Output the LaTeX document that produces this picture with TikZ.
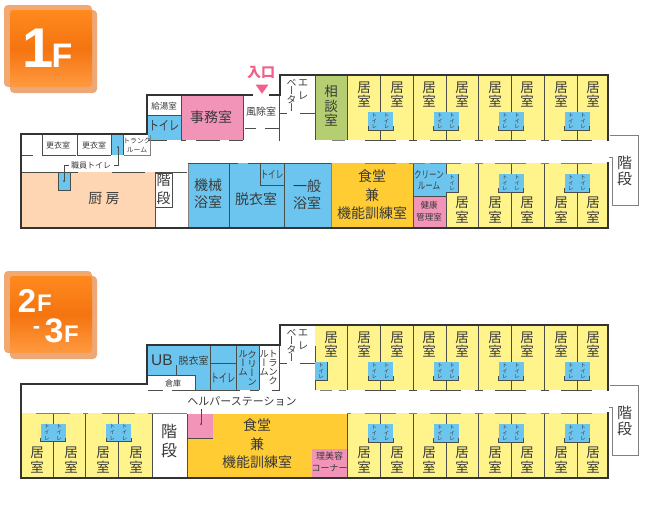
\documentclass[tikz,border=0pt]{standalone}
\usepackage{fontspec}
\setmainfont{Noto Sans CJK JP}
\newfontfamily\vjp[RawFeature={+vert}]{Noto Sans CJK JP}
\newfontfamily\lat{Liberation Sans}
\usetikzlibrary{shapes.geometric}
\definecolor{ylw}{HTML}{FFF38C}
\definecolor{blu}{HTML}{6CC5EE}
\definecolor{pnk}{HTML}{F293B8}
\definecolor{org}{HTML}{FFCC33}
\definecolor{grn}{HTML}{B5CE72}
\definecolor{pch}{HTML}{FFD6B4}
\definecolor{wal}{HTML}{333333}
\definecolor{iw}{HTML}{4D4D47}
\definecolor{txt}{HTML}{3A3A3A}
\definecolor{rim}{HTML}{F2A871}
\definecolor{rimb}{HTML}{E99A60}
\definecolor{tagA}{HTML}{FF8A1E}
\definecolor{tagB}{HTML}{F47410}
\definecolor{tagC}{HTML}{FF9A40}
\definecolor{ent}{HTML}{F0608A}
\newcommand\fs[2]{\fontsize{#1}{#2}\selectfont}
\tikzset{
  lb/.style={inner sep=0pt,text=txt,align=center},
  outer/.style={draw=wal,line width=1.8pt,line cap=rect},
  iwall/.style={draw=iw,line width=.8pt},
  lwall/.style={draw=iw,line width=1pt},
  gwall/.style={draw=gray,line width=.8pt},
  rmlb/.style={lb,font=\fs{13.5}{14.5}},
  toilab/.style={lb,font=\vjp\fs{5.5}{5.6}},
  tagtxt/.style={inner sep=0pt,text=white},
}
% toilet pair centred on wall x=#1, top y=#2
\newcommand\toipair[2]{%
  \fill[blu] ({#1-12.5},#2) rectangle ({#1+12.5},{#2+18});
  \draw[iwall] ({#1-12.5},{#2+14}) -- ({#1-12.5},{#2+18}) -- ({#1+12.5},{#2+18}) -- ({#1+12.5},{#2+14});
  \node[toilab] at ({#1-6.2},{#2+9}) {ト\\イ\\レ};
  \node[toilab] at ({#1+6.2},{#2+9}) {ト\\イ\\レ};
}
\newcommand\toisingle[2]{%
  \fill[blu] (#1,#2) rectangle ({#1+12.5},{#2+18});
  \draw[iwall] (#1,{#2+18}) -- ({#1+12.5},{#2+18}) -- ({#1+12.5},#2);
  \node[toilab] at ({#1+6.2},{#2+9}) {ト\\イ\\レ};
}
% dashes on corridor
\newcommand\corr[2]{%
  \foreach \w in {380.5,446,511,577}{\draw[#2] ({\w-16},#1) -- ({\w+15},#1);}
  \foreach \w in {413,478.5,544.5}{\draw[#2] ({\w-4},#1) -- ({\w+4},#1);}
}
\begin{document}
\begin{tikzpicture}[x=1pt,y=-1pt]
\useasboundingbox (0,0) rectangle (650,520);
\fill[white] (0,0) rectangle (650,520);

%%%% tags
\foreach \dy in {0,266}{
  \fill[rim,rounded corners=4pt] (4,{5+\dy}) rectangle (92,{87+\dy});
  \fill[rimb,rounded corners=4pt,opacity=.85] (10,{10+\dy}) rectangle (97,{93+\dy});
  \shade[top color=tagA,bottom color=tagC,middle color=tagB,rounded corners=3pt] (10,{10+\dy}) rectangle (92,{87+\dy});
}
\node[tagtxt,font=\lat\bfseries\fs{56}{56}] (t1) at (38,48) {1};
\node[tagtxt,font=\lat\bfseries\fs{34}{34}] (t1f) at (62,55.5) {F};
\node[tagtxt,font=\lat\bfseries\fs{33}{33}] (t2) at (27,300.5) {2};
\node[tagtxt,font=\lat\bfseries\fs{24}{24}] (t2f) at (44.5,303) {F};
\node[tagtxt,font=\lat\bfseries\fs{22}{22}] (t3d) at (36.5,330) {-};
\node[tagtxt,font=\lat\bfseries\fs{34}{34}] (t3) at (54,331) {3};
\node[tagtxt,font=\lat\bfseries\fs{24}{24}] (t3f) at (71.5,334) {F};

%%%%%%%%%%%%% 1F fills
\fill[ylw] (347,75) rectangle (608,140);
\fill[ylw] (446,163) rectangle (608,228);
\fill[grn] (315,75) rectangle (347,140);
\fill[pnk] (181,96) rectangle (243,140);
\fill[blu] (148,115) rectangle (181,140);
\fill[pch] (22,172) rectangle (155,228);
\fill[blu] (188,163) rectangle (331,228);
\fill[org] (331,163) rectangle (413,228);
\fill[blu] (413,163) rectangle (446,196);
\fill[pnk] (413,196) rectangle (446,228);
\fill[blu] (58,172) rectangle (70,190);
\fill[blu] (112,135) rectangle (123,155);

%% 1F interior walls
\foreach \w in {380.5,413,446,478.5,511,544.5,577}{\draw[iwall] (\w,76) -- (\w,140);}
\foreach \w in {413,446,478.5,511,544.5,577}{\draw[iwall] (\w,163) -- (\w,228);}
\draw[iwall] (347,75) -- (347,140) (315,75) -- (315,140) (279,96) -- (279,141);
\draw[iwall] (280,113) -- (287,113) (300,113) -- (315,113);
\draw[iwall] (245,128) -- (256,128) (265,128) -- (279,128);
\draw[iwall] (243,96) -- (243,140) (181,96) -- (181,140) (148,115) -- (181,115);
\draw[iwall] (148,140) -- (167,140) (181,140) -- (186,140) (196,140) -- (220,140) (229,140) -- (243,140);
\draw[gwall] (188,163) -- (188,228) (331,163) -- (331,228);
\draw[iwall] (229,163) -- (229,228) (284,163) -- (284,228);
\draw[iwall] (260,163) -- (260,185) (260,185) -- (284,185);
\draw[iwall] (188,163) -- (238,163) (248,163) -- (331,163);
\draw[iwall] (413,196) -- (446,196);
% corridor dashes
\corr{140.5}{lwall}
\corr{163}{gwall}
\draw[gwall] (332,140.5) -- (345,140.5);
\draw[gwall] (415,163) -- (425,163);
% left wing
\draw[iwall] (22,155) -- (33,155);
\draw[iwall] (42,135) -- (42,155) -- (76,155);
\draw[iwall] (77,135) -- (77,155) -- (111,155);
\draw[iwall] (111,135) -- (111,155) (123,135) -- (123,155);
\draw[gwall] (124,155) -- (150,155) -- (150,135);
\draw[iwall] (22,172) -- (78,172) (112,172) -- (145,172);
\draw[iwall] (58,172) -- (58,190) -- (70,190) -- (70,172);
\draw[iwall] (155,172) -- (155,228);
\draw[iwall] (155,172) -- (187,172);
\draw[iwall,fill=white] (155,173) rectangle (172,207);
\fill[iw] (64,181) circle (1pt);
\fill[iw] (118,147) circle (1pt);
\draw[iwall] (64,181) -- (64,165) -- (69,165);
\draw[iwall] (118,147) -- (118,165) -- (114,165);
% right stair
\draw[gwall,fill=white] (610,135) -- (638,135) -- (638,205) -- (612,205) -- (612,157) -- (609,157);

%% 1F outer
\draw[outer] (252,95) -- (147,95) -- (147,134) -- (21,134) -- (21,228) -- (608,228) -- (608,163);
\draw[outer] (270,95) -- (280,95) -- (280,75) -- (608,75) -- (608,140);

%% 1F toilets
\foreach \w in {380.5,446,511,577}{\toipair{\w}{112}}
\foreach \w in {511,577}{\toipair{\w}{174}}
\toisingle{446}{174}

%% 1F labels
\foreach \x/\n in {364/a,397/b,429/c,462/d,495/e,527/f,561/g,593/h}{
  \node[rmlb] (u\n) at (\x,94.5) {居\\室};
}
\foreach \x/\n in {462/d,495/e,527/f,561/g,593/h}{
  \node[rmlb] (l\n) at (\x,210) {居\\室};
}
\node[lb,font=\fs{13.5}{14.5}] (sodan) at (331,106) {相\\談\\室};
\node[lb,font=\fs{14}{15}] (jimu) at (211,117) {事務室};
\node[lb,font=\fs{10}{11}] (fuu) at (261,112) {風除室};
\node[lb,font=\fs{8.5}{9}] (kyu) at (164,106) {給湯室};
\node[lb,xscale=.78,font=\fs{13}{13}] (to1) at (164,126) {トイレ};
\node[lb,font=\fs{8}{9}] (ko1) at (58,145) {更衣室};
\node[lb,font=\fs{8}{9}] (ko2) at (94,145) {更衣室};
\node[lb,font=\fs{6.8}{8.6}] (tr1) at (137,145.5) {トランク\\ルーム};
\node[lb,fill=white,inner sep=1pt,font=\fs{8}{9}] (sy) at (91,165) {職員トイレ};
\node[lb,font=\fs{14}{14}] (chu) at (104,199) {厨 房};
\node[lb,font=\fs{14}{17}] (kik) at (208,194) {機械\\浴室};
\node[lb,font=\fs{14}{15}] (dat) at (256,199) {脱衣室};
\node[lb,xscale=.72,font=\fs{10.5}{11}] (to2) at (272,175) {トイレ};
\node[lb,font=\fs{14}{17}] (ip) at (307,195) {一般\\浴室};
\node[lb,font=\fs{14}{18.5}] (sh1) at (372,195) {食堂\\兼\\機能訓練室};
\node[lb,xscale=.75,font=\fs{10}{10.5}] (cl) at (429,180) {クリーン\\ルーム};
\node[lb,font=\fs{8.5}{12}] (ke) at (429,211.5) {健康\\管理室};
\node[lb,font=\fs{14}{18.5}] (s1) at (163.5,189.5) {階\\段};
\node[lb,font=\fs{15}{16.5}] (s2) at (624.5,171) {階\\段};
\node[lb,font=\vjp\fs{10.5}{13}] (ev1) at (303,89.5) {エ\\レ};
\node[lb,font=\vjp\fs{10}{8.6}] (ev2) at (291.5,95.5) {ベ\\ー\\タ\\ー};
\node[inner sep=0pt,text=ent,font=\bfseries\fs{14}{14}] (entr) at (261,73) {入口};
\node[isosceles triangle,isosceles triangle apex angle=70,shape border rotate=-90,fill=ent,inner sep=0pt,minimum height=9pt,minimum width=10pt] (arr) at (262,88) {};

%%%%%%%%%%%%% 2F fills
\fill[ylw] (315,325) rectangle (608,390);
\fill[ylw] (347,413) rectangle (608,478);
\fill[ylw] (22,413) rectangle (152,478);
\fill[org] (188,414) rectangle (347,478);
\fill[pnk] (188,414) rectangle (213,438);
\fill[pnk] (312,449) rectangle (347,478);
\fill[blu] (148,345) rectangle (259,390);
\fill[white] (148,375) rectangle (195,390);

%% 2F walls
\foreach \w in {347,380.5,413,446,478.5,511,544.5,577}{\draw[iwall] (\w,326) -- (\w,390);}
\foreach \w in {380.5,413,446,478.5,511,544.5,577}{\draw[iwall] (\w,413) -- (\w,478);}
\draw[iwall] (347,413) -- (347,478);
\draw[iwall] (315,346) -- (315,390) (279,346) -- (279,391);
\draw[iwall] (280,363) -- (287,363) (300,363) -- (315,363);
\draw[iwall] (210.5,346) -- (210.5,390) (236,346) -- (236,390) (210.5,363) -- (236,363);
\draw[iwall] (259,346) -- (259,390);
\draw[iwall] (176,365) -- (176,375);
\draw[iwall] (148,375) -- (195,375) -- (195,390);
\draw[iwall] (148,390) -- (163,390) (172,390) -- (240,390) (250,390) -- (259,390) (272,390) -- (280,390);
\draw[iwall] (187,414) -- (187,478);
\draw[iwall] (188,438) -- (213,438);
\draw[iwall] (201,409) -- (201,424);
\fill[iw] (201,424) circle (1pt);
\corr{390.5}{lwall}
\corr{413}{gwall}
\draw[gwall] (320,390.5) -- (332,390.5) (339,390.5) -- (346,390.5);
\draw[gwall] (347,413) -- (351,413);
% left lower rooms
\foreach \w in {53,85.5,118.5,152}{\draw[iwall] (\w,413) -- (\w,478);}
\draw[gwall] (36,413) -- (70,413) (83,413) -- (88,413) (102,413) -- (135,413) (148,413) -- (187,413);
% right stair
\draw[gwall,fill=white] (610,385) -- (638,385) -- (638,455) -- (612,455) -- (612,407) -- (609,407);

%% 2F outer
\draw[outer] (21,478) -- (21,384) -- (147,384) -- (147,345) -- (280,345) -- (280,325) -- (608,325) -- (608,390);
\draw[outer] (608,413) -- (608,478) -- (21,478);

%% 2F toilets
\foreach \w in {380.5,446,511,577}{\toipair{\w}{362}}
\foreach \w in {380.5,446,511,577}{\toipair{\w}{424}}
\foreach \w in {53,118.5}{\toipair{\w}{423.5}}
\toisingle{315}{362}

%% 2F labels
\foreach \x/\n in {331/o,364/a,397/b,429/c,462/d,495/e,527/f,561/g,593/h}{
  \node[rmlb] (U\n) at (\x,344.5) {居\\室};
}
\foreach \x/\n in {364/a,397/b,429/c,462/d,495/e,527/f,561/g,593/h,37/p,71/q,103/r,136/s}{
  \node[rmlb] (L\n) at (\x,460) {居\\室};
}
\node[lb,font=\lat\fs{15.5}{16}] (ub) at (162,360) {UB};
\node[lb,font=\fs{10}{11}] (dt) at (193.5,360.5) {脱衣室};
\node[lb,font=\fs{8}{9}] (so) at (173,383) {倉庫};
\node[lb,xscale=.68,font=\fs{12}{13}] (to3) at (223,378) {トイレ};
\node[lb,font=\vjp\fs{9.5}{9}] (c1) at (252,368) {ク\\リ\\ー\\ン};
\node[lb,font=\vjp\fs{9.5}{9}] (c2) at (243,363.5) {ル\\ー\\ム};
\node[lb,font=\vjp\fs{9.5}{9}] (tr2) at (273,368) {ト\\ラ\\ン\\ク};
\node[lb,font=\vjp\fs{9.5}{9}] (tr3) at (264,363.5) {ル\\ー\\ム};
\node[lb,fill=white,inner sep=.5pt,font=\fs{11}{12}] (hs) at (242,401) {ヘルパーステーション};
\node[lb,font=\fs{14}{18.5}] (sh2) at (257,444) {食堂\\兼\\機能訓練室};
\node[lb,font=\fs{9}{12}] (ri) at (329.5,462) {理美容\\コーナー};
\node[lb,font=\fs{16}{19}] (s3) at (169,441) {階\\段};
\node[lb,font=\fs{15}{16.5}] (s4) at (624.5,421) {階\\段};
\node[lb,font=\vjp\fs{10.5}{13}] (ev3) at (303,339.5) {エ\\レ};
\node[lb,font=\vjp\fs{10}{8.6}] (ev4) at (291.5,345.5) {ベ\\ー\\タ\\ー};
\end{tikzpicture}
\end{document}
